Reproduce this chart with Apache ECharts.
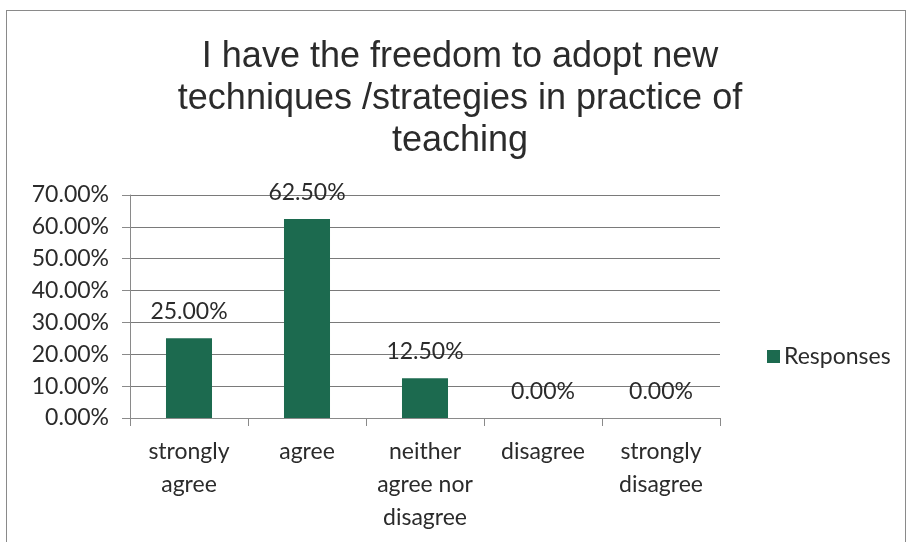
<!DOCTYPE html>
<html><head><meta charset="utf-8">
<script src="https://cdn.jsdelivr.net/npm/echarts@6/dist/echarts.min.js"></script>
<style>
html,body{margin:0;padding:0;background:#fff;}
#frame{position:absolute;left:6px;top:10px;width:900px;height:540px;border:1px solid #8a8a8a;border-bottom:none;box-sizing:border-box;}
#c{position:absolute;left:0;top:0;width:911px;height:542px;}
</style></head>
<body>
<div id="frame"></div>
<div id="c"></div>
<script>
const categories = ["strongly\nagree", "agree", "neither\nagree nor\ndisagree", "disagree", "strongly\ndisagree"];
const responses = [25.0, 62.5, 12.5, 0.0, 0.0];
const seriesName = "Responses";
const titleText = "I have the freedom to adopt new\ntechniques /strategies in practice of\nteaching";

const chart = echarts.init(document.getElementById('c'), null, {renderer:'canvas'});
const labelFont = 'Lato, "Open Sans", sans-serif';
chart.setOption({
  animation:false,
  backgroundColor:'transparent',
  title:{
    text:titleText, left:455, top:31, textAlign:'center',
    textStyle:{fontFamily:'"Liberation Sans", Arial, sans-serif', fontSize:36, fontWeight:'normal', color:'#2b2b2b', lineHeight:42}
  },
  legend:{
    data:[seriesName], left:762, top:340, itemWidth:13, itemHeight:13, icon:'rect', itemGap:6,
    textStyle:{fontFamily:labelFont, fontSize:23, color:'#2b2b2b', padding:[0,0,0,-1]}
  },
  grid:{left:130, right:191, top:195, bottom:124, containLabel:false},
  xAxis:{
    type:'category', data:categories,
    axisLine:{show:true, lineStyle:{color:'#8a8a8a', width:1}},
    axisTick:{show:true, alignWithLabel:false, length:8, lineStyle:{color:'#8a8a8a'}},
    axisLabel:{fontFamily:labelFont, fontSize:23, color:'#2b2b2b', lineHeight:33, margin:17, interval:0}
  },
  yAxis:{
    type:'value', min:0, max:70, interval:10,
    axisLine:{show:true, lineStyle:{color:'#8a8a8a', width:1}},
    axisTick:{show:true, length:8, lineStyle:{color:'#8a8a8a'}},
    splitLine:{show:true, lineStyle:{color:'#7a7a7a', width:1}},
    axisLabel:{fontFamily:labelFont, fontSize:23, color:'#2b2b2b', margin:21, formatter:v=>v.toFixed(2)+'%'}
  },
  series:[{
    name:seriesName, type:'bar', data:responses, barWidth:'39%',
    itemStyle:{color:'#1c6a4f'},
    label:{show:true, position:'top', distance:15, fontFamily:labelFont, fontSize:23, color:'#2b2b2b',
      formatter:p=>p.value.toFixed(2)+'%'}
  }]
});
</script>
</body></html>
